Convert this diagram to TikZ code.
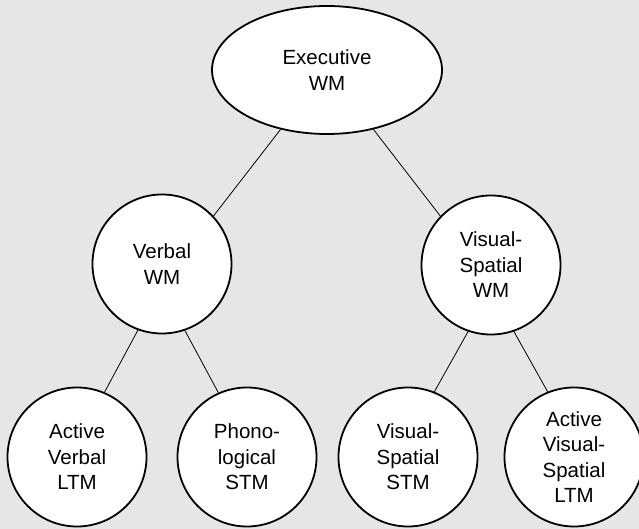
\documentclass[tikz,border=0pt]{standalone}
\usepackage{fontspec}
\setmainfont{Liberation Sans}
\usetikzlibrary{shapes.geometric}
\definecolor{bggray}{HTML}{E6E6E6}
\begin{document}
\begin{tikzpicture}[x=1pt,y=1pt,
  box/.style={draw=black,line width=1.8pt,fill=white,inner sep=0pt,align=center,
    font=\fontsize{20.5}{25.5}\selectfont},
  roundbox/.style={box,circle,minimum size=139pt},
  ovalbox/.style={box,ellipse,minimum width=230pt,minimum height=128pt},
  link/.style={line width=0.8pt}]
\fill[bggray] (0,0) rectangle (639,529);
\useasboundingbox (0,0) rectangle (639,529);
\node[ovalbox] (exe) at (327,459) {Executive\\WM};
\node[roundbox] (vwm) at (162,265) {Verbal\\WM};
\node[roundbox] (swm) at (491,264) {Visual-\\Spatial\\WM};
\node[roundbox] (avl) at (77,72) {Active\\Verbal\\LTM};
\node[roundbox] (pho) at (247,72) {Phono-\\logical\\STM};
\node[roundbox] (vss) at (408,72) {Visual-\\Spatial\\STM};
\node[roundbox] (avs) at (574,72) {Active\\Visual-\\Spatial\\LTM};
\draw[link] (exe.232) -- (vwm.43);
\draw[link] (exe.308) -- (swm.136);
\draw[link] (vwm.250) -- (avl.67);
\draw[link] (vwm.289) -- (pho.114);
\draw[link] (swm.251) -- (vss.68);
\draw[link] (swm.289) -- (avs.112);
\end{tikzpicture}
\end{document}
